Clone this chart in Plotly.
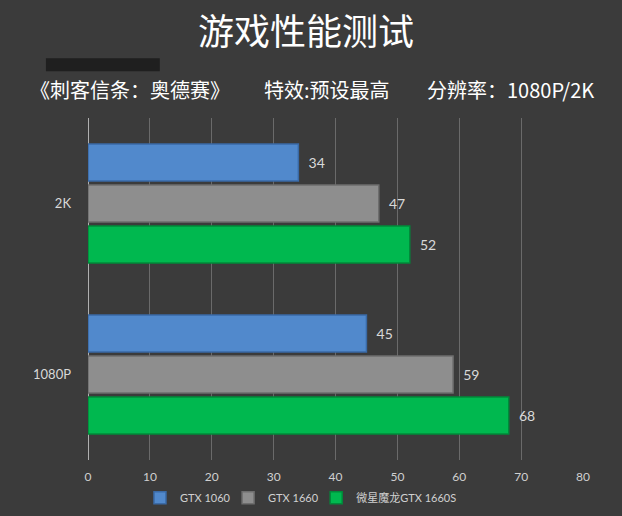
import plotly.graph_objects as go

# resolutions, top to bottom
resolutions = ["2K", "1080P"]

# series names and fps values (per resolution)
series_names = ["GTX 1060", "GTX 1660", "微星魔龙GTX 1660S"]
gtx1060 = [34, 45]
gtx1660 = [47, 59]
gtx1660s = [52, 68]

x_ticks = [0, 10, 20, 30, 40, 50, 60, 70, 80]

colors = ["#5189cc", "#8e8e8e", "#00b84f"]
edges = ["#3a6aa6", "#6e6e6e", "#008a3a"]

title = "游戏性能测试"
subtitle_parts = ["《刺客信条：奥德赛》", "特效:预设最高", "分辨率：1080P/2K"]
subtitle_x = [-0.121, 0.352, 0.68]

# one small legend per series so the entries can sit close together
legend_ids = ["legend", "legend2", "legend3"]
legend_x = [0.105, 0.283, 0.461]

num_font = "Lato"
cjk_font = "Noto Sans CJK SC"

fig = go.Figure()
for name, vals, c, e, lg in zip(series_names, [gtx1060, gtx1660, gtx1660s], colors, edges, legend_ids):
	fig.add_trace(go.Bar(
		y=resolutions, x=vals, name=name, orientation="h",
		marker=dict(color=c, line=dict(color=e, width=1.5)),
		text=vals, texttemplate="  %{x}", textposition="outside",
		textfont=dict(color="#d9d9d9", size=14, family=num_font),
		cliponaxis=False, legend=lg, showlegend=True,
	))

legend_style = dict(orientation="h", xref="paper", xanchor="left",
					y=-0.068, yanchor="top", itemwidth=30, visible=True,
					font=dict(family=num_font + ", " + cjk_font, size=11, color="#d0d0d0"),
					bgcolor="rgba(0,0,0,0)")

fig.update_layout(
	width=622, height=516,
	showlegend=True,
	margin=dict(l=88, r=39, t=118, b=56, autoexpand=False),
	paper_bgcolor="#3b3b3b",
	plot_bgcolor="#3b3b3b",
	barmode="group",
	bargap=0.28,
	bargroupgap=0.1,
	title=dict(text=title, x=0.492, xanchor="center", y=0.938, yanchor="middle",
			   font=dict(family=cjk_font, size=36, color="white")),
	annotations=[dict(text=t, xref="paper", yref="paper",
					  x=px, y=1.082, xanchor="left", yanchor="middle", showarrow=False,
					  font=dict(family=cjk_font, size=20, color="white"))
				 for t, px in zip(subtitle_parts, subtitle_x)],
	shapes=[dict(type="rect", xref="paper", yref="paper",
				 x0=-0.085, x1=0.145, y0=1.137, y1=1.175,
				 fillcolor="#1f1f1f", line=dict(width=0))],
)
for lg, lx in zip(legend_ids, legend_x):
	fig.update_layout({lg: dict(legend_style, x=lx)})

fig.update_xaxes(
	range=[0, 80], tickvals=x_ticks,
	showgrid=True, gridcolor="#6a6a6a", gridwidth=1,
	zeroline=True, zerolinecolor="#b0b0b0", zerolinewidth=1,
	tickfont=dict(family=num_font, size=12, color="#d0d0d0"),
	ticklabelstandoff=8,
)
fig.update_yaxes(
	autorange="reversed",
	showgrid=False,
	tickfont=dict(family=num_font, size=13, color="#d8d8d8"),
	ticklabelstandoff=16,
)

fig.write_html("out.html", config={"displayModeBar": False},
			   post_script="document.body.style.margin='0';")
